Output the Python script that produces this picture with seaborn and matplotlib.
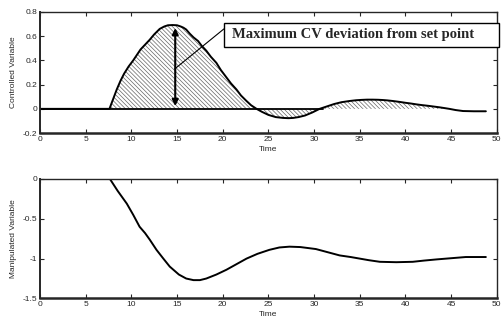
import numpy as np
import pandas as pd
import matplotlib
matplotlib.use("Agg")
import matplotlib.pyplot as plt
import seaborn as sns
from matplotlib.patches import Rectangle

# controlled variable (CV) response
cv_time = [0, 7.6, 8.0, 8.4, 8.8, 9.2, 9.7, 10.2, 10.6, 11.0, 11.5, 12.0, 12.5, 13.1, 13.6, 14.0, 14.5,
           15.0, 15.4, 15.7, 16.0, 16.4, 16.8, 17.3, 17.7, 18.2, 18.7, 19.3, 19.8, 20.4, 20.9,
           21.5, 22.0, 22.6, 23.1, 23.7, 24.3, 25.0, 25.8, 26.6, 27.2, 27.7, 28.3, 29.0, 29.8, 30.6,
           31.4, 32.2, 33.0, 33.9, 34.6, 35.2, 35.8, 36.4, 37.0, 37.5, 38.0, 38.6, 39.3, 40.0,
           40.6, 41.2, 41.8, 42.5, 43.1, 43.7, 44.3, 44.8, 45.5, 46.3, 47.5, 48.8]
cv_vals = [0, 0, 0.08, 0.16, 0.23, 0.29, 0.35, 0.40, 0.445, 0.49, 0.53, 0.57, 0.615, 0.66, 0.68, 0.69, 0.692,
           0.69, 0.68, 0.67, 0.655, 0.62, 0.59, 0.56, 0.52, 0.48, 0.43, 0.38, 0.32, 0.26, 0.21,
           0.16, 0.11, 0.065, 0.03, 0.0, -0.025, -0.05, -0.068, -0.075, -0.077, -0.075, -0.068, -0.055, -0.03, 0.0,
           0.02, 0.04, 0.055, 0.065, 0.071, 0.074, 0.076, 0.076, 0.075, 0.073, 0.07, 0.065, 0.058, 0.05,
           0.044, 0.037, 0.031, 0.025, 0.019, 0.013, 0.006, 0.0, -0.01, -0.018, -0.02, -0.02]

# manipulated variable (MV) response
mv_time = [0, 7.65, 8.5, 9.5, 10.2, 10.9, 11.5, 12.0, 12.75, 13.5, 14.2, 15.2, 16.0, 16.8, 17.5, 18.2,
           19.3, 20.4, 21.5, 22.6, 23.8, 25.1, 26.2, 27.3, 28.5, 30.2, 31.5, 32.8, 34.0, 35.0, 36.0,
           37.2, 39.0, 40.8, 42.0, 43.4, 45.0, 46.6, 48.8]
mv_vals = [0, 0, -0.15, -0.31, -0.45, -0.60, -0.68, -0.76, -0.89, -1.00, -1.10, -1.20, -1.25, -1.27, -1.27,
           -1.25, -1.20, -1.14, -1.07, -1.00, -0.94, -0.89, -0.86, -0.85, -0.855, -0.88, -0.92, -0.96, -0.98,
           -1.00, -1.02, -1.04, -1.045, -1.04, -1.025, -1.01, -0.995, -0.98, -0.98]

x_ticks = [0, 5, 10, 15, 20, 25, 30, 35, 40, 45, 50]
cv_ticks = [-0.2, 0, 0.2, 0.4, 0.6, 0.8]
mv_ticks = [-1.5, -1, -0.5, 0]
note = "Maximum CV deviation from set point"

sns.set_style("ticks")
plt.rcParams["font.family"] = ["Liberation Sans", "DejaVu Sans"]
plt.rcParams["hatch.linewidth"] = 0.5
plt.rcParams["hatch.color"] = "#666666"

cv = pd.DataFrame({"Time": cv_time, "CV": cv_vals})
mv = pd.DataFrame({"Time": mv_time, "MV": mv_vals})

fig = plt.figure(figsize=(5.02, 3.23), dpi=100)
ax1 = fig.add_axes([0.0797, 0.588, 0.910, 0.375])
ax2 = fig.add_axes([0.0797, 0.076, 0.910, 0.370])

def style(ax, yticks, ylim, ylabel):
    ax.set_xlim(0, 50)
    ax.set_ylim(*ylim)
    ax.set_xticks(x_ticks)
    ax.set_yticks(yticks)
    ax.set_yticklabels([f"{t:g}" for t in yticks])
    ax.tick_params(direction="in", top=True, right=True, labelsize=6, length=3, width=0.8, pad=2)
    ax.set_xlabel("Time", fontsize=6, labelpad=2)
    ax.set_ylabel(ylabel, fontsize=6, labelpad=4)
    for s in ax.spines.values():
        s.set_visible(True)
        s.set_linewidth(1.0)
    ax.spines["bottom"].set_linewidth(1.8)
    ax.spines["left"].set_linewidth(1.4)

# hatched area between CV and set point
t = np.array(cv_time)
v = np.array(cv_vals)
m = (t >= 7.6) & (t <= 44.8)
ax1.fill_between(t[m], v[m], 0, facecolor="white", edgecolor="#666666",
                 hatch="\\\\\\\\\\\\\\\\", linewidth=0)
ax1.plot([0, 31], [0, 0], color="black", lw=1.3)
sns.lineplot(data=cv, x="Time", y="CV", ax=ax1, color="black", lw=1.4)
style(ax1, cv_ticks, (-0.2, 0.8), "Controlled Variable")

# double arrow at the peak
ax1.annotate("", xy=(14.8, 0.69), xytext=(14.8, 0.0),
             arrowprops=dict(arrowstyle="<|-|>", color="black", lw=1.5, mutation_scale=9))

# callout box, its text and the leader line
ax1.add_patch(Rectangle((20.13, 0.511), 30.1, 0.198, facecolor="white", edgecolor="black",
                        lw=1.0, clip_on=False, zorder=5))
ax1.text(21.0, 0.61, note, fontsize=10.5, fontweight="bold", family=["Liberation Serif"],
         ha="left", va="center", zorder=6)
ax1.plot([20.13, 14.75], [0.66, 0.33], color="black", lw=0.8, zorder=4)

sns.lineplot(data=mv, x="Time", y="MV", ax=ax2, color="black", lw=1.4)
style(ax2, mv_ticks, (-1.5, 0), "Manipulated Variable")

fig.savefig("out.png", dpi=100)
